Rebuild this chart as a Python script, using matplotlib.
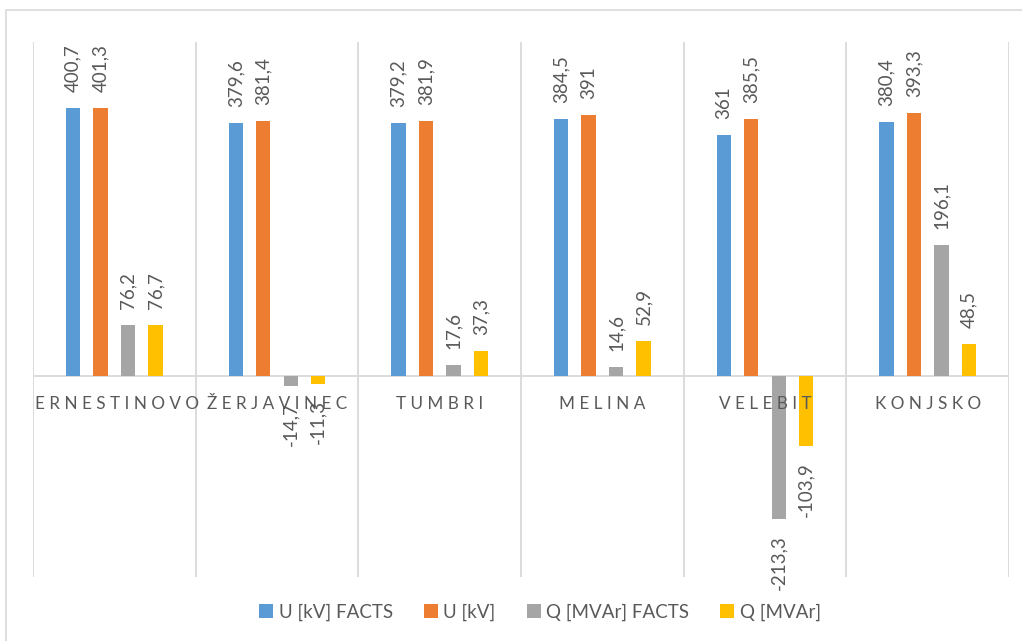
import matplotlib.pyplot as plt
from matplotlib.patches import Patch, Rectangle
import numpy as np

# substations and measured values
stations = ['ERNESTINOVO', 'ŽERJAVINEC', 'TUMBRI', 'MELINA', 'VELEBIT', 'KONJSKO']
u_facts = [400.7, 379.6, 379.2, 384.5, 361, 380.4]
u_base = [401.3, 381.4, 381.9, 391, 385.5, 393.3]
q_facts = [76.2, -14.7, 17.6, 14.6, -213.3, 196.1]
q_base = [76.7, -11.3, 37.3, 52.9, -103.9, 48.5]

series_names = ['U [kV] FACTS', 'U [kV]', 'Q [MVAr] FACTS', 'Q [MVAr]']
colors = ['#5B9BD5', '#ED7D31', '#A5A5A5', '#FFC000']
text_color = '#595959'
grid_color = '#D9D9D9'

plt.rcParams['font.family'] = ['Lato', 'DejaVu Sans']

fig = plt.figure(figsize=(10.22, 6.41), dpi=100)
ax = fig.add_axes([33 / 1022, 1 - 577 / 641, (1009 - 33) / 1022, (577 - 42) / 641])

# light frame round the whole chart
fig.patches.append(Rectangle((6 / 1022, -0.1), 1.2, 1 - 10 / 641 + 0.1,
                             transform=fig.transFigure, fill=False,
                             edgecolor=grid_color, linewidth=1.2))

x = np.arange(len(stations))
step = 0.169
width = 0.088

for k, (vals, col) in enumerate(zip([u_facts, u_base, q_facts, q_base], colors)):
    pos = x + (k - 1.5) * step
    ax.bar(pos, vals, width=width, color=col, zorder=3)
    for p, v in zip(pos, vals):
        label = f'{v:g}'.replace('.', ',')
        off = 11.5 if v >= 0 else -11.5
        ax.annotate(label, (p, v), xytext=(0, off), textcoords='offset points',
                    rotation=90, ha='center', va='bottom' if v >= 0 else 'top',
                    fontsize=13.5, color=text_color, zorder=4)

ax.set_xlim(-0.5, len(stations) - 0.5)
ax.set_ylim(-300, 500)

# category separators and zero line
for b in np.arange(len(stations) + 1) - 0.5:
    ax.axvline(b, color=grid_color, linewidth=1.3, zorder=1)
ax.axhline(0, color=grid_color, linewidth=1.3, zorder=2)

# station names sit just under the zero line, drawn over the bars;
# the first one is pushed right so it stays inside the plot
for i, name in enumerate(stations):
    if i == 0:
        xy, dx, ha = (i - 0.5, 0), 1.5, 'left'
    else:
        xy, dx, ha = (i, 0), 0, 'center'
    ax.annotate(' '.join(name), xy, xytext=(dx, -20), textcoords='offset points',
                ha=ha, va='center', fontsize=12.3, color=text_color, zorder=5)

ax.set_xticks([])
ax.set_yticks([])
for s in ax.spines.values():
    s.set_visible(False)

handles = [Patch(facecolor=c, edgecolor='none') for c in colors]
leg = fig.legend(handles, series_names, loc='center', ncol=4,
                 bbox_to_anchor=(540 / 1022, 1 - 612 / 641), frameon=False,
                 fontsize=13.5, handlelength=0.75, handleheight=0.75,
                 handletextpad=0.3, columnspacing=1.65)
for t in leg.get_texts():
    t.set_color(text_color)

fig.savefig('out.png', dpi=100)
